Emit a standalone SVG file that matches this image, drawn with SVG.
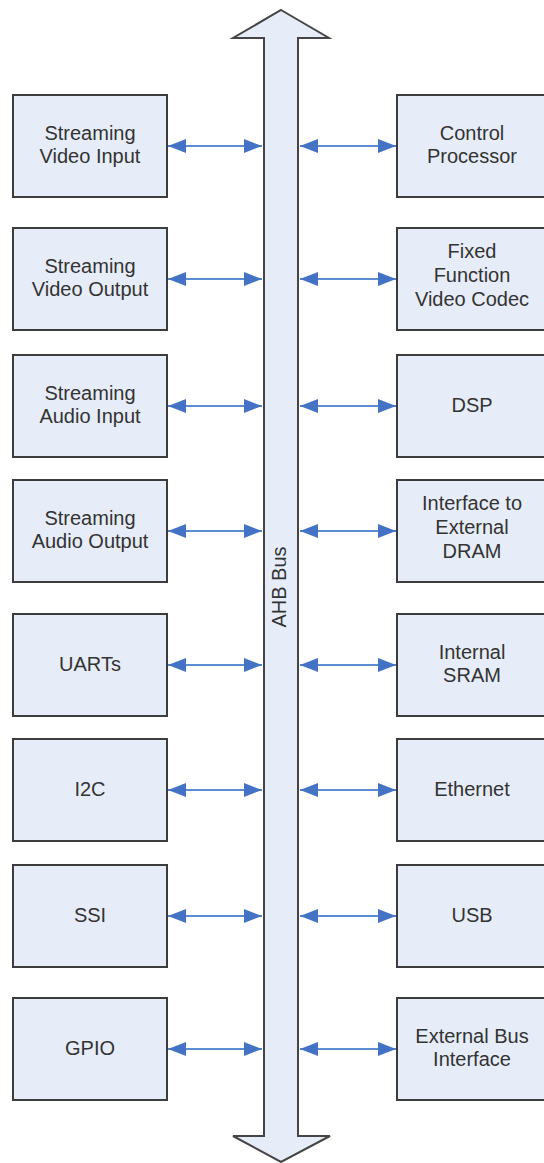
<svg xmlns="http://www.w3.org/2000/svg" width="544" height="1163" viewBox="0 0 544 1163">
<style>
.box{fill:#E7EDF8;stroke:#3C3C3C;stroke-width:2}
.lbl{font-family:"Liberation Sans",Arial,sans-serif;font-size:20px;fill:#333333;text-anchor:middle}
.conn{stroke:#5B8BD0;stroke-width:2;fill:none;marker-start:url(#ah);marker-end:url(#ah)}
.bus{fill:#E7EDF8;stroke:#454545;stroke-width:2;stroke-linejoin:miter}
</style>
<defs>
<marker id="ah" viewBox="0 0 18 14" refX="18" refY="7" markerWidth="18" markerHeight="14" markerUnits="userSpaceOnUse" orient="auto-start-reverse">
<path d="M0,0 L18,7 L0,14 Z" fill="#4472C4"/>
</marker>
</defs>
<rect width="544" height="1163" fill="#FFFFFF"/>
<g id="bus">
<polygon class="bus" points="281,10 329,38 298,38 298,1136 330,1136 281,1162 233,1136 264,1136 264,38 233,38"/>
<text class="lbl" transform="translate(286,587) rotate(-90)">AHB Bus</text>
</g>
<g id="connectors">
<line class="conn" x1="168" y1="146" x2="262" y2="146"/>
<line class="conn" x1="300" y1="146" x2="396" y2="146"/>
<line class="conn" x1="168" y1="279" x2="262" y2="279"/>
<line class="conn" x1="300" y1="279" x2="396" y2="279"/>
<line class="conn" x1="168" y1="406" x2="262" y2="406"/>
<line class="conn" x1="300" y1="406" x2="396" y2="406"/>
<line class="conn" x1="168" y1="531" x2="262" y2="531"/>
<line class="conn" x1="300" y1="531" x2="396" y2="531"/>
<line class="conn" x1="168" y1="665" x2="262" y2="665"/>
<line class="conn" x1="300" y1="665" x2="396" y2="665"/>
<line class="conn" x1="168" y1="790" x2="262" y2="790"/>
<line class="conn" x1="300" y1="790" x2="396" y2="790"/>
<line class="conn" x1="168" y1="916" x2="262" y2="916"/>
<line class="conn" x1="300" y1="916" x2="396" y2="916"/>
<line class="conn" x1="168" y1="1049" x2="262" y2="1049"/>
<line class="conn" x1="300" y1="1049" x2="396" y2="1049"/>
</g>
<g id="svi"><rect class="box" x="13" y="95" width="154" height="102"/><text class="lbl" x="90" y="140">Streaming</text><text class="lbl" x="90" y="163">Video Input</text></g>
<g id="svo"><rect class="box" x="13" y="228" width="154" height="102"/><text class="lbl" x="90" y="273">Streaming</text><text class="lbl" x="90" y="296">Video Output</text></g>
<g id="sai"><rect class="box" x="13" y="355" width="154" height="102"/><text class="lbl" x="90" y="400">Streaming</text><text class="lbl" x="90" y="423">Audio Input</text></g>
<g id="sao"><rect class="box" x="13" y="480" width="154" height="102"/><text class="lbl" x="90" y="525">Streaming</text><text class="lbl" x="90" y="548">Audio Output</text></g>
<g id="uarts"><rect class="box" x="13" y="614" width="154" height="102"/><text class="lbl" x="90" y="671">UARTs</text></g>
<g id="i2c"><rect class="box" x="13" y="739" width="154" height="102"/><text class="lbl" x="90" y="796">I2C</text></g>
<g id="ssi"><rect class="box" x="13" y="865" width="154" height="102"/><text class="lbl" x="90" y="922">SSI</text></g>
<g id="gpio"><rect class="box" x="13" y="998" width="154" height="102"/><text class="lbl" x="90" y="1055">GPIO</text></g>
<g id="cp"><rect class="box" x="397" y="95" width="154" height="102"/><text class="lbl" x="472" y="140">Control</text><text class="lbl" x="472" y="163">Processor</text></g>
<g id="ffvc"><rect class="box" x="397" y="228" width="154" height="102"/><text class="lbl" x="472" y="258">Fixed</text><text class="lbl" x="472" y="282">Function</text><text class="lbl" x="472" y="306">Video Codec</text></g>
<g id="dsp"><rect class="box" x="397" y="355" width="154" height="102"/><text class="lbl" x="472" y="412">DSP</text></g>
<g id="dram"><rect class="box" x="397" y="480" width="154" height="102"/><text class="lbl" x="472" y="510">Interface to</text><text class="lbl" x="472" y="534">External</text><text class="lbl" x="472" y="558">DRAM</text></g>
<g id="sram"><rect class="box" x="397" y="614" width="154" height="102"/><text class="lbl" x="472" y="659">Internal</text><text class="lbl" x="472" y="682">SRAM</text></g>
<g id="eth"><rect class="box" x="397" y="739" width="154" height="102"/><text class="lbl" x="472" y="796">Ethernet</text></g>
<g id="usb"><rect class="box" x="397" y="865" width="154" height="102"/><text class="lbl" x="472" y="922">USB</text></g>
<g id="ebi"><rect class="box" x="397" y="998" width="154" height="102"/><text class="lbl" x="472" y="1043">External Bus</text><text class="lbl" x="472" y="1066">Interface</text></g>
</svg>
